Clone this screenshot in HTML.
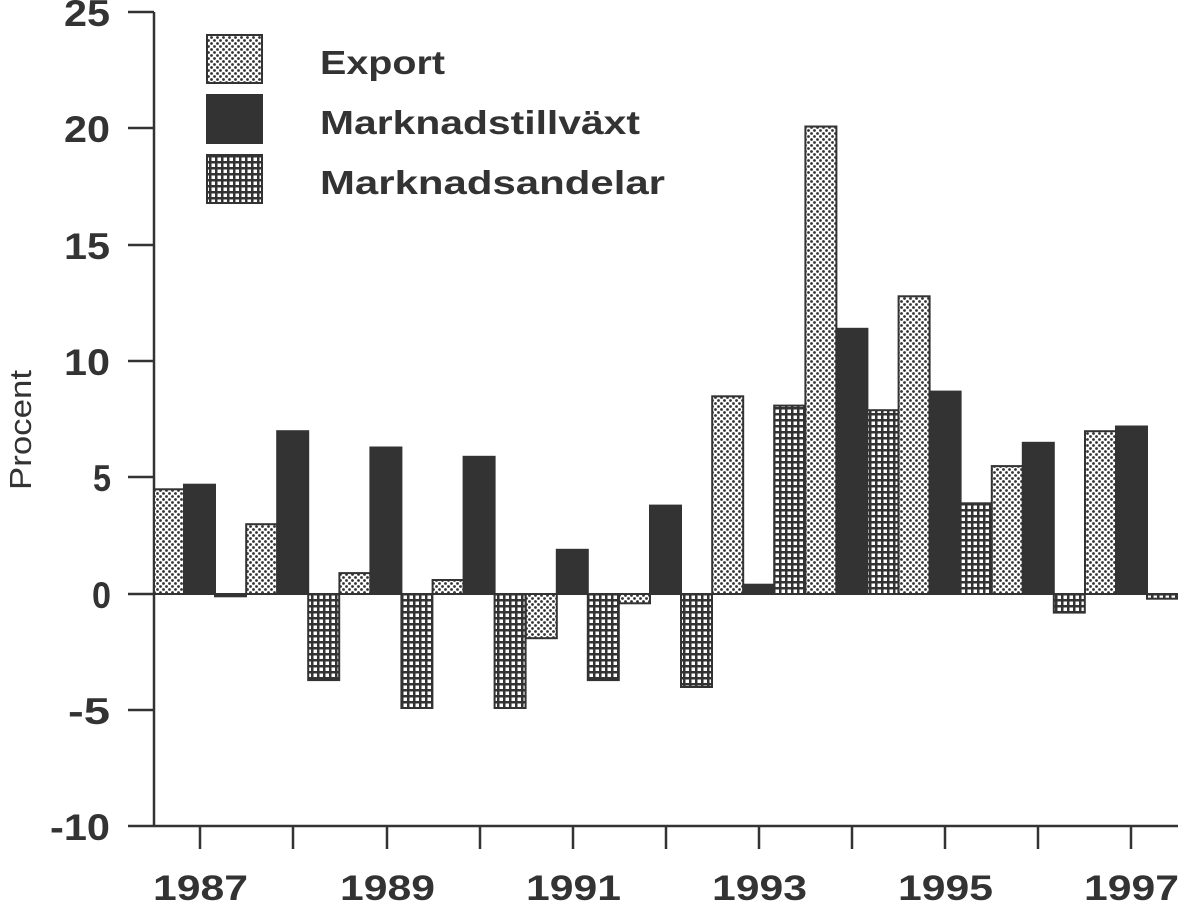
<!DOCTYPE html>
<html><head><style>html,body{margin:0;padding:0;background:#fff}svg{display:block}</style></head>
<body>
<svg width="1178" height="903" viewBox="0 0 1178 903" xmlns="http://www.w3.org/2000/svg" font-family="Liberation Sans, sans-serif" font-weight="bold" fill="#333">
<defs>
<pattern id="dot" width="6" height="6" patternUnits="userSpaceOnUse">
<rect width="6" height="6" fill="#fff"/>
<circle cx="1.5" cy="1.5" r="1.4" fill="#333"/><circle cx="4.5" cy="4.5" r="1.4" fill="#333"/>
</pattern>
<pattern id="grid" width="6" height="6" patternUnits="userSpaceOnUse">
<rect width="6" height="6" fill="#333"/>
<rect x="1.5" y="1.5" width="3.5" height="3.5" fill="#fff"/>
</pattern>
</defs>
<g stroke="#333" stroke-width="2.5" fill="none">
<line x1="154" y1="12" x2="154" y2="827"/>
<line x1="128" y1="826" x2="1178" y2="826"/>
<line x1="154" y1="594" x2="1178" y2="594" stroke-width="2"/>
<line x1="128" y1="12" x2="154" y2="12"/><line x1="128" y1="128" x2="154" y2="128"/>
<line x1="128" y1="245" x2="154" y2="245"/><line x1="128" y1="361" x2="154" y2="361"/>
<line x1="128" y1="477" x2="154" y2="477"/><line x1="128" y1="594" x2="154" y2="594"/>
<line x1="128" y1="710" x2="154" y2="710"/>
<line x1="200" y1="826" x2="200" y2="849"/><line x1="293" y1="826" x2="293" y2="849"/>
<line x1="387" y1="826" x2="387" y2="849"/><line x1="480" y1="826" x2="480" y2="849"/>
<line x1="573" y1="826" x2="573" y2="849"/><line x1="666" y1="826" x2="666" y2="849"/>
<line x1="759" y1="826" x2="759" y2="849"/><line x1="852" y1="826" x2="852" y2="849"/>
<line x1="945" y1="826" x2="945" y2="849"/><line x1="1038" y1="826" x2="1038" y2="849"/>
<line x1="1131" y1="826" x2="1131" y2="849"/>
</g>
<g font-size="37">
<text x="64" y="26" textLength="46" lengthAdjust="spacingAndGlyphs">25</text>
<text x="64" y="142" textLength="46" lengthAdjust="spacingAndGlyphs">20</text>
<text x="64" y="259" textLength="46" lengthAdjust="spacingAndGlyphs">15</text>
<text x="64" y="375" textLength="46" lengthAdjust="spacingAndGlyphs">10</text>
<text x="93" y="491" textLength="18" lengthAdjust="spacingAndGlyphs">5</text>
<text x="92" y="608" textLength="19" lengthAdjust="spacingAndGlyphs">0</text>
<text x="68" y="724" textLength="42" lengthAdjust="spacingAndGlyphs">-5</text>
<text x="50" y="840" textLength="60" lengthAdjust="spacingAndGlyphs">-10</text>
</g>
<g font-size="35">
<text x="153" y="900" textLength="95" lengthAdjust="spacingAndGlyphs">1987</text>
<text x="340" y="900" textLength="95" lengthAdjust="spacingAndGlyphs">1989</text>
<text x="526" y="900" textLength="95" lengthAdjust="spacingAndGlyphs">1991</text>
<text x="712" y="900" textLength="95" lengthAdjust="spacingAndGlyphs">1993</text>
<text x="898" y="900" textLength="95" lengthAdjust="spacingAndGlyphs">1995</text>
<text x="1084" y="900" textLength="95" lengthAdjust="spacingAndGlyphs">1997</text>
</g>
<text transform="translate(31,490) rotate(-90)" font-size="31" font-weight="normal" textLength="120" lengthAdjust="spacingAndGlyphs">Procent</text>
<g stroke="#333" stroke-width="2">
<rect x="154" y="489.3" width="30" height="104.7" fill="url(#dot)"/>
<rect x="184" y="484.7" width="31" height="109.3" fill="#333"/>
<rect x="215" y="594" width="31" height="2.3" fill="url(#grid)"/>
<rect x="246.2" y="524.2" width="31" height="69.8" fill="url(#dot)"/>
<rect x="277.2" y="431.2" width="31" height="162.8" fill="#333"/>
<rect x="308.2" y="594" width="31" height="86.1" fill="url(#grid)"/>
<rect x="339.4" y="573.1" width="31" height="20.9" fill="url(#dot)"/>
<rect x="370.4" y="447.5" width="31" height="146.5" fill="#333"/>
<rect x="401.4" y="594" width="31" height="114" fill="url(#grid)"/>
<rect x="432.6" y="580" width="31" height="14" fill="url(#dot)"/>
<rect x="463.6" y="456.8" width="31" height="137.2" fill="#333"/>
<rect x="494.6" y="594" width="31" height="114" fill="url(#grid)"/>
<rect x="525.8" y="594" width="31" height="44.2" fill="url(#dot)"/>
<rect x="556.8" y="549.8" width="31" height="44.2" fill="#333"/>
<rect x="587.8" y="594" width="31" height="86.1" fill="url(#grid)"/>
<rect x="619" y="594" width="31" height="9.3" fill="url(#dot)"/>
<rect x="650" y="505.6" width="31" height="88.4" fill="#333"/>
<rect x="681" y="594" width="31" height="93" fill="url(#grid)"/>
<rect x="712.2" y="396.3" width="31" height="197.7" fill="url(#dot)"/>
<rect x="743.2" y="584.7" width="31" height="9.3" fill="#333"/>
<rect x="774.2" y="405.6" width="31" height="188.4" fill="url(#grid)"/>
<rect x="805.4" y="126.5" width="31" height="467.5" fill="url(#dot)"/>
<rect x="836.4" y="328.8" width="31" height="265.2" fill="#333"/>
<rect x="867.4" y="410.2" width="31" height="183.8" fill="url(#grid)"/>
<rect x="898.6" y="296.3" width="31" height="297.7" fill="url(#dot)"/>
<rect x="929.6" y="391.6" width="31" height="202.4" fill="#333"/>
<rect x="960.6" y="503.3" width="31" height="90.7" fill="url(#grid)"/>
<rect x="991.8" y="466.1" width="31" height="127.9" fill="url(#dot)"/>
<rect x="1022.8" y="442.8" width="31" height="151.2" fill="#333"/>
<rect x="1053.8" y="594" width="31" height="18.6" fill="url(#grid)"/>
<rect x="1085" y="431.2" width="31" height="162.8" fill="url(#dot)"/>
<rect x="1116" y="426.5" width="31" height="167.5" fill="#333"/>
<rect x="1147" y="594" width="31" height="4.7" fill="url(#grid)"/>
</g>
<g stroke="#333" stroke-width="2">
<rect x="207" y="35" width="55" height="48" fill="url(#dot)"/>
<rect x="207" y="95" width="55" height="48" fill="#333"/>
<rect x="207" y="155" width="55" height="48" fill="url(#grid)"/>
</g>
<g font-size="33">
<text x="320" y="74" textLength="125" lengthAdjust="spacingAndGlyphs">Export</text>
<text x="320" y="134" textLength="320" lengthAdjust="spacingAndGlyphs">Marknadstillväxt</text>
<text x="320" y="194" textLength="345" lengthAdjust="spacingAndGlyphs">Marknadsandelar</text>
</g>
</svg>
</body></html>
